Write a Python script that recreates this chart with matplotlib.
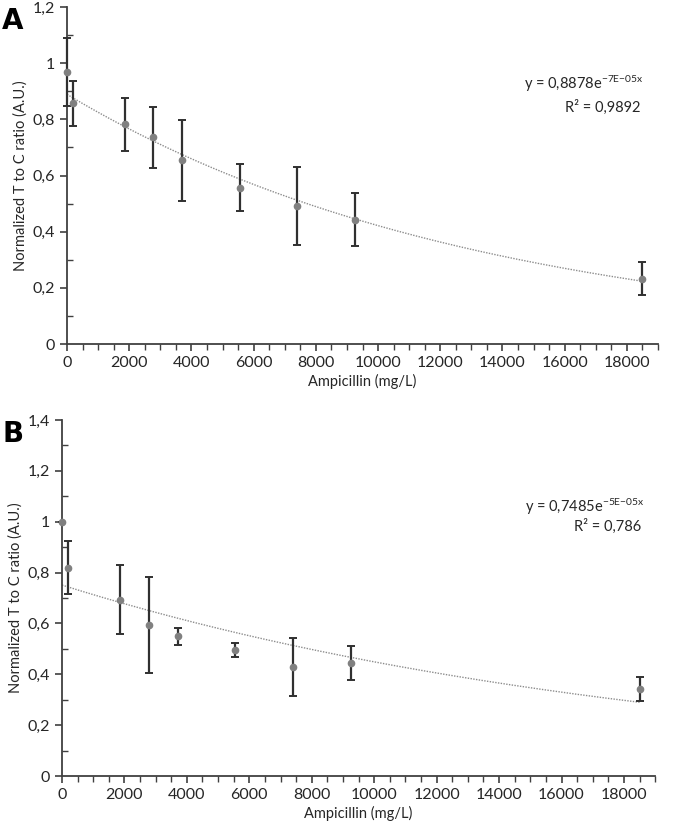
import matplotlib.pyplot as plt
import numpy as np
from matplotlib.ticker import MultipleLocator, FuncFormatter

plt.rcParams['font.family'] = ['Lato', 'DejaVu Sans']
plt.rcParams['mathtext.default'] = 'regular'

# Ampicillin concentrations (mg/L)
conc = [0, 185, 1850, 2775, 3700, 5550, 7400, 9250, 18500]

# Panel A
ratio_a = [0.968, 0.858, 0.782, 0.736, 0.654, 0.557, 0.493, 0.443, 0.232]
err_a = [0.12, 0.08, 0.093, 0.108, 0.145, 0.084, 0.139, 0.095, 0.059]
eq_a = 'y = 0,8878e$^{{-}7E{-}05x}$'
r2_a = 'R² = 0,9892'

# Panel B
ratio_b = [0.998, 0.82, 0.693, 0.594, 0.55, 0.496, 0.43, 0.446, 0.343]
err_b = [0.0, 0.105, 0.135, 0.189, 0.034, 0.029, 0.114, 0.067, 0.048]
eq_b = 'y = 0,7485e$^{{-}5E{-}05x}$'
r2_b = 'R² = 0,786'

comma = FuncFormatter(lambda v, p: ('%g' % round(v, 3)).replace('.', ','))


def draw_panel(ax, x, y, err, ymax, eq, r2, letter, eq_xy, r2_xy, letter_x):
    x = np.array(x, dtype=float)
    y = np.array(y)
    # exponential trendline (least squares on log y, like Excel)
    k, ln_a = np.polyfit(x, np.log(y), 1)
    xs = np.linspace(0, x.max(), 200)
    ax.plot(xs, np.exp(ln_a) * np.exp(k * xs), linestyle=(0, (1, 1)),
            color='#8c8c8c', lw=1.0, zorder=2)
    ax.errorbar(x, y, yerr=err, fmt='o', color='#808080', markersize=4.5,
                ecolor='#303030', elinewidth=1.6, capsize=3, capthick=1.4,
                zorder=3, clip_on=False)

    ax.set_xlim(0, 19000)
    ax.set_ylim(0, ymax)
    ax.xaxis.set_major_locator(MultipleLocator(2000))
    ax.xaxis.set_minor_locator(MultipleLocator(500))
    ax.yaxis.set_major_locator(MultipleLocator(0.2))
    ax.yaxis.set_minor_locator(MultipleLocator(0.1))
    ax.yaxis.set_major_formatter(comma)

    for s in ['top', 'right']:
        ax.spines[s].set_visible(False)
    for s in ['left', 'bottom']:
        ax.spines[s].set_color('#404040')
        ax.spines[s].set_linewidth(1.3)
    ax.tick_params(axis='both', which='major', length=5, width=1.2,
                   color='#404040', labelsize=11.5, labelcolor='#262626')
    ax.tick_params(axis='x', which='minor', length=4, width=1.0, color='#404040')
    ax.tick_params(axis='y', which='minor', direction='in', length=4,
                   width=1.0, color='#404040')

    ax.set_xlabel('Ampicillin (mg/L)', fontsize=10.5, color='#262626',
                  labelpad=3)
    ax.set_ylabel('Normalized T to C ratio (A.U.)', fontsize=10.5,
                  color='#262626')
    ax.yaxis.set_label_coords(-0.066, 0.5)

    ax.text(eq_xy[0], eq_xy[1], eq, transform=ax.transAxes, fontsize=10.5,
            ha='right', va='center', color='#262626')
    ax.text(r2_xy[0], r2_xy[1], r2, transform=ax.transAxes,
            fontsize=10.5, ha='right', va='center', color='#262626')
    ax.text(letter_x, 1.0, letter, transform=ax.transAxes, fontsize=20,
            fontweight='bold', family=['DejaVu Sans'], ha='left', va='top')


fig = plt.figure(figsize=(6.85, 8.26), dpi=100)
ax_a = fig.add_axes([0.0978, 0.5835, 0.8628, 0.408])
ax_b = fig.add_axes([0.0905, 0.0605, 0.866, 0.431])

draw_panel(ax_a, conc, ratio_a, err_a, 1.2, eq_a, r2_a, 'A',
           (0.975, 0.772), (0.97, 0.703), -0.11)
draw_panel(ax_b, conc, ratio_b, err_b, 1.4, eq_b, r2_b, 'B',
           (0.983, 0.756), (0.976, 0.70), -0.10)

fig.savefig('out.png', dpi=100)
